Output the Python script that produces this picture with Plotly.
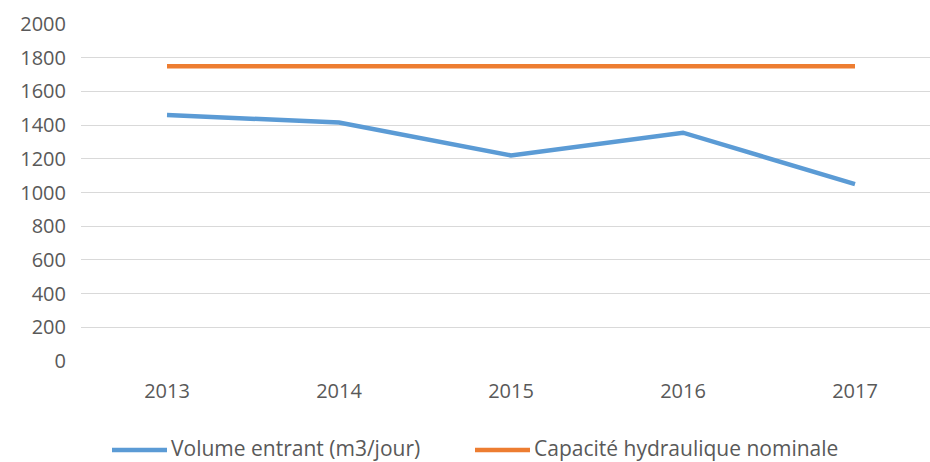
import plotly.graph_objects as go

years = ["2013", "2014", "2015", "2016", "2017"]
volume_entrant = [1460, 1415, 1220, 1355, 1050]
capacite_nominale = [1750, 1750, 1750, 1750, 1750]
y_ticks = [0, 200, 400, 600, 800, 1000, 1200, 1400, 1600, 1800, 2000]
series_names = ["Volume entrant (m3/jour)", "Capacité hydraulique nominale"]
colors = ["#5B9BD5", "#ED7D31"]

FONT = "Open Sans"
TXT = "#595959"
FS = 20

fig = go.Figure()
fig.add_trace(go.Scatter(x=years, y=volume_entrant, mode="lines", name=series_names[0],
                         line=dict(color=colors[0], width=4.5), showlegend=False))
fig.add_trace(go.Scatter(x=years, y=capacite_nominale, mode="lines", name=series_names[1],
                         line=dict(color=colors[1], width=4.5), showlegend=False))

W, H = 930, 462
L, R, T, B = 81, 0, 24, 101
pw = W - L - R
ph = H - T - B

def px_x(p):
    return (p - L) / pw

def px_y(p):
    return (H - B - p) / ph

# custom legend
leg_y = px_y(448)
legend_items = [(112, 167, 170), (475, 530, 533)]
for (x0, x1, xt), name, col in zip(legend_items, series_names, colors):
    fig.add_shape(type="line", xref="paper", yref="paper", x0=px_x(x0), x1=px_x(x1),
                  y0=px_y(450), y1=px_y(450), line=dict(color=col, width=4.5))
    fig.add_annotation(xref="paper", yref="paper", x=px_x(xt), y=leg_y, text=name,
                       showarrow=False, xanchor="left", yanchor="middle", borderpad=0,
                       font=dict(family=FONT, size=21, color=TXT))

fig.update_layout(
    width=W, height=H,
    margin=dict(l=L, r=R, t=T, b=B),
    plot_bgcolor="white", paper_bgcolor="white",
    font=dict(family=FONT, size=FS, color=TXT),
    xaxis=dict(range=[-0.5, -0.5 + pw / 172.0], showgrid=False, showline=False,
               zeroline=False, ticks="", ticklabelstandoff=16,
               tickfont=dict(family=FONT, size=FS, color=TXT)),
    yaxis=dict(range=[0, 2000], tickvals=y_ticks, showgrid=True, gridcolor="#D9D9D9",
               gridwidth=1.3, zeroline=False, showline=False, ticks="",
               ticklabelstandoff=14,
               tickfont=dict(family=FONT, size=FS, color=TXT)),
)

fig.write_html("out.html", config={"displayModeBar": False},
               post_script="document.body.style.margin='0';document.body.style.overflow='hidden';")
